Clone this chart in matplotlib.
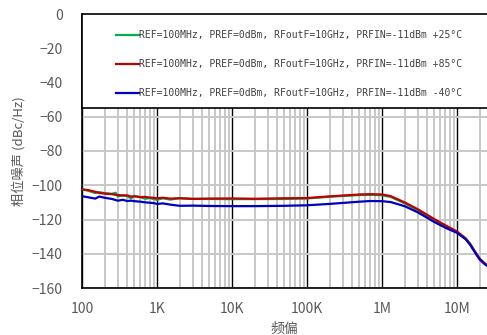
import matplotlib
matplotlib.use('Agg')
import matplotlib.pyplot as plt
import matplotlib.transforms as mtransforms
from matplotlib.patches import Rectangle
from matplotlib.ticker import FixedLocator, NullFormatter, LogLocator

plt.rcParams['font.family'] = ['Noto Sans CJK SC', 'DejaVu Sans']
plt.rcParams['axes.unicode_minus'] = True

freq = [100, 120, 150, 170, 200, 250, 280, 300, 350, 400, 450, 500, 600, 700, 800, 900,
        1e3, 1.2e3, 1.5e3, 2e3, 3e3, 5e3, 1e4, 2e4, 5e4, 1e5, 2e5, 5e5, 7e5, 1e6, 1.3e6,
        2e6, 3e6, 5e6, 7e6, 1e7, 1.3e7, 1.5e7, 1.8e7, 2e7, 2.3e7, 2.5e7]

pn_25 = [-102.3, -103.2, -104.5, -104.0, -104.6, -105.0, -104.4, -106.6, -105.8, -106.4,
         -107.6, -106.2, -107.0, -107.9, -107.4, -108.1, -108.5, -107.6, -108.4, -107.5,
         -107.9, -108.0, -108.1, -108.1, -108.0, -107.7, -106.7, -105.7, -105.6, -105.8,
         -106.8, -110.5, -114.5, -120.3, -123.8, -127.3, -131.0, -134.5, -140.0, -143.0,
         -145.5, -146.5]

pn_85 = [-102.4, -102.8, -103.8, -104.5, -104.9, -105.2, -105.6, -105.7, -106.0, -105.9,
         -106.6, -106.5, -106.9, -106.8, -107.2, -107.3, -107.6, -107.3, -107.8, -107.6,
         -108.0, -107.8, -107.7, -107.9, -107.6, -107.5, -106.5, -105.4, -105.2, -105.4,
         -106.3, -110.0, -114.0, -119.8, -123.4, -127.0, -131.0, -134.3, -139.8, -142.8,
         -145.3, -146.5]

pn_m40 = [-106.4, -107.0, -107.8, -106.6, -107.3, -108.0, -108.6, -109.0, -108.5, -109.2,
          -109.0, -109.3, -109.6, -110.0, -110.2, -110.4, -110.9, -110.6, -111.3, -112.0,
          -111.9, -112.1, -112.2, -112.2, -112.0, -111.7, -110.9, -109.6, -109.2, -109.3,
          -109.8, -112.2, -115.8, -121.5, -124.8, -127.8, -131.5, -134.8, -140.3, -143.3,
          -145.8, -147.0]

labels = ['REF=100MHz, PREF=0dBm, RFoutF=10GHz, PRFIN=-11dBm +25°C',
          'REF=100MHz, PREF=0dBm, RFoutF=10GHz, PRFIN=-11dBm +85°C',
          'REF=100MHz, PREF=0dBm, RFoutF=10GHz, PRFIN=-11dBm -40°C']
colors = ['#00b050', '#c00000', '#0000c0']

xticks = [1e2, 1e3, 1e4, 1e5, 1e6, 1e7]
xticklabels = ['100', '1K', '10K', '100K', '1M', '10M']
yticks = [0, -20, -40, -60, -80, -100, -120, -140, -160]

fig = plt.figure(figsize=(4.87, 3.35), dpi=100)
ax = fig.add_axes([82/487, 47/335, 405/487, 274/335])

for y, lab, c in zip([pn_25, pn_85, pn_m40], labels, colors):
    ax.plot(freq, y, color=c, linewidth=1.6, label=lab, zorder=4)

ax.set_xscale('log')
ax.set_xlim(100, 10**7.4)
ax.set_ylim(-160, 0)

ax.xaxis.set_major_locator(FixedLocator(xticks))
ax.set_xticklabels(xticklabels)
ax.xaxis.set_minor_locator(LogLocator(base=10, subs=range(2, 10)))
ax.xaxis.set_minor_formatter(NullFormatter())
ax.set_yticks(yticks)

ax.grid(True, which='major', axis='x', color='black', linewidth=1.0, zorder=1)
ax.grid(True, which='minor', axis='x', color='#c8c8c8', linewidth=1.4, zorder=1)
ax.grid(True, which='major', axis='y', color='#c8c8c8', linewidth=1.4, zorder=1)
ax.set_axisbelow(True)

ax.tick_params(axis='y', which='both', length=0, labelsize=10, labelcolor='#595959', pad=14)
ax.tick_params(axis='x', which='both', length=0, labelsize=10, labelcolor='#595959', pad=10)
for s in ['top', 'right']:
    ax.spines[s].set_visible(False)
ax.spines['left'].set_linewidth(1.2)
ax.spines['bottom'].set_linewidth(1.2)

# legend box over the upper part of the plot
trans = mtransforms.blended_transform_factory(ax.transAxes, ax.transData)
ax.add_patch(Rectangle((0, -55), 1.2, 55, transform=trans, facecolor='white',
                       edgecolor='black', linewidth=1.2, zorder=3, clip_on=False))

leg = ax.legend(loc='upper left', bbox_to_anchor=(0.075, 0.955), frameon=False,
                prop={'family': 'DejaVu Sans Mono', 'size': 7},
                handlelength=2.3, handletextpad=0.0, labelspacing=1.95,
                borderaxespad=0)
for t in leg.get_texts():
    t.set_color('#404040')
leg.set_zorder(5)

ax.set_ylabel('相位噪声 (dBc/Hz)', fontsize=9.5, color='#595959', labelpad=4)
ax.set_xlabel('频偏', fontsize=10, color='#595959', labelpad=4)

fig.savefig('out.png', dpi=100)
